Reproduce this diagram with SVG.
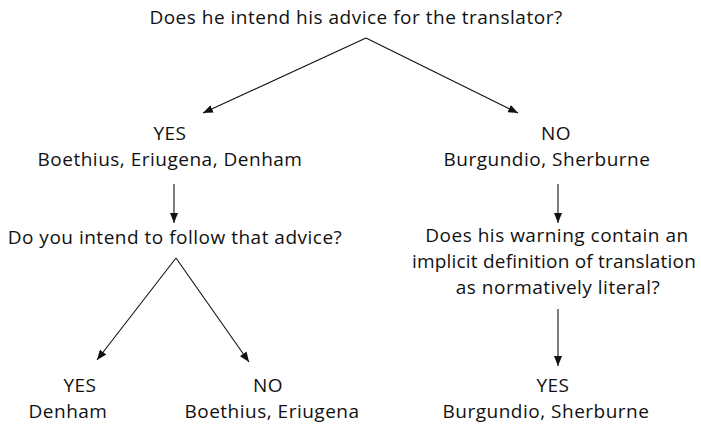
<svg xmlns="http://www.w3.org/2000/svg" width="701" height="427" viewBox="0 0 701 427">
<style>
text{font-family:"Open Sans","Liberation Sans",sans-serif;font-size:19px;letter-spacing:0.5px;fill:#111;text-anchor:middle}
.tight{letter-spacing:0.2px}
.c line{stroke:#111;stroke-width:1.1;fill:none}
</style>
<defs>
<marker id="ah" viewBox="0 0 10 8" refX="10" refY="4" markerWidth="10" markerHeight="8" markerUnits="userSpaceOnUse" orient="auto">
<path d="M0,0L10,4L0,8Z" fill="#111"/>
</marker>
</defs>
<rect width="701" height="427" fill="#fff"/>
<g id="q1"><text x="356" y="24">Does he intend his advice for the translator?</text></g>
<g id="yes1"><text x="170" y="140">YES</text><text x="170" y="166">Boethius, Eriugena, Denham</text></g>
<g id="no1"><text x="556" y="140">NO</text><text x="547" y="166">Burgundio, Sherburne</text></g>
<g id="q2"><text x="175" y="244">Do you intend to follow that advice?</text></g>
<g id="q3"><text x="557" y="242">Does his warning contain an</text><text class="tight" x="554" y="268">implicit definition of translation</text><text x="558" y="294">as normatively literal?</text></g>
<g id="yes2"><text x="80" y="392">YES</text><text x="68" y="418">Denham</text></g>
<g id="no2"><text x="268" y="392">NO</text><text x="272" y="418">Boethius, Eriugena</text></g>
<g id="yes3"><text x="553" y="392">YES</text><text x="546" y="418">Burgundio, Sherburne</text></g>
<g id="connectors" class="c">
<line x1="366" y1="38" x2="203" y2="113" marker-end="url(#ah)"/>
<line x1="366" y1="38" x2="518" y2="113" marker-end="url(#ah)"/>
<line x1="174" y1="184" x2="174" y2="223" marker-end="url(#ah)"/>
<line x1="558" y1="184" x2="558" y2="223" marker-end="url(#ah)"/>
<line x1="176" y1="258" x2="97" y2="360" marker-end="url(#ah)"/>
<line x1="176" y1="258" x2="249" y2="362" marker-end="url(#ah)"/>
<line x1="558" y1="309" x2="558" y2="366" marker-end="url(#ah)"/>
</g>
</svg>
